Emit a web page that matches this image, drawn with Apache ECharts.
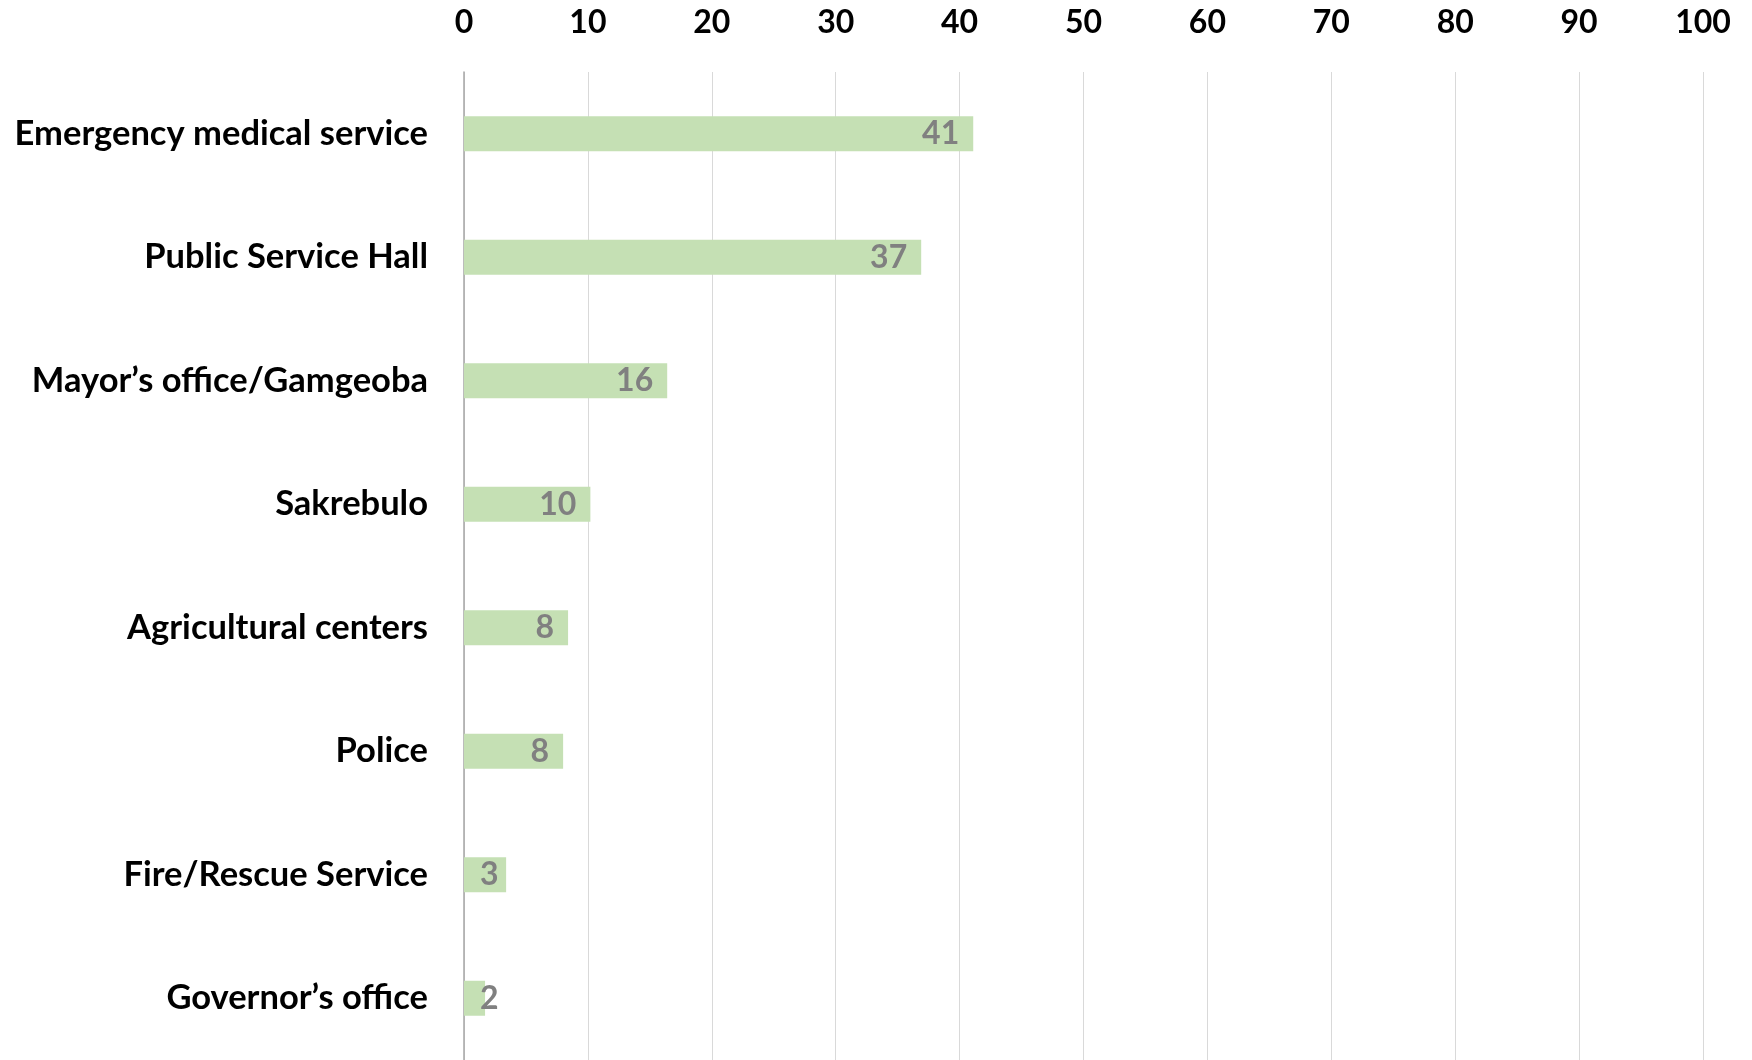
<!DOCTYPE html>
<html>
<head>
<meta charset="utf-8">
<script src="https://cdn.jsdelivr.net/npm/echarts@6/dist/echarts.min.js"></script>
<style>
html,body{margin:0;padding:0;background:#fff;}
#chart{width:1752px;height:1060px;}
</style>
</head>
<body>
<div id="chart"></div>
<script>
const categories = ["Emergency medical service","Public Service Hall","Mayor\u2019s office/Gamgeoba","Sakrebulo","Agricultural centers","Police","Fire/Rescue Service","Governor\u2019s office"];
const values = [41.1, 36.9, 16.4, 10.2, 8.4, 8.0, 3.4, 1.7];
const axisMin = 0, axisMax = 100, axisStep = 10;

const FONT = 'Lato, "Noto Sans", sans-serif';
const chart = echarts.init(document.getElementById('chart'), null, {renderer:'canvas'});
chart.setOption({
  animation: false,
  backgroundColor: '#fff',
  grid: {left: 464, right: 49, top: 72, bottom: 0, containLabel: false},
  xAxis: {
    type: 'value', position: 'top', min: axisMin, max: axisMax, interval: axisStep,
    axisLine: {show: false}, axisTick: {show: false},
    axisLabel: {color: '#000', fontFamily: FONT, fontWeight: 'bold', fontSize: 32, margin: 33},
    splitLine: {show: true, lineStyle: {color: '#d9d9d9', width: 1}}
  },
  yAxis: {
    type: 'category', data: categories, inverse: true,
    axisLine: {show: true, lineStyle: {color: '#a6a6a6', width: 1.5}},
    axisTick: {show: false},
    axisLabel: {color: '#000', fontFamily: FONT, fontWeight: 'bold', fontSize: 34.5, margin: 36}
  },
  series: [{
    type: 'bar',
    barWidth: 35,
    itemStyle: {color: '#c5e0b4'},
    label: {
      show: true, position: 'insideRight', distance: 14,
      color: '#808080', fontFamily: FONT, fontWeight: 'bold', fontSize: 32,
      formatter: p => Math.round(p.value).toString()
    },
    data: values.map(v => v < 5 ? {value: v, label: {position: 'insideLeft', distance: 16}} : v)
  }]
});
</script>
</body>
</html>
